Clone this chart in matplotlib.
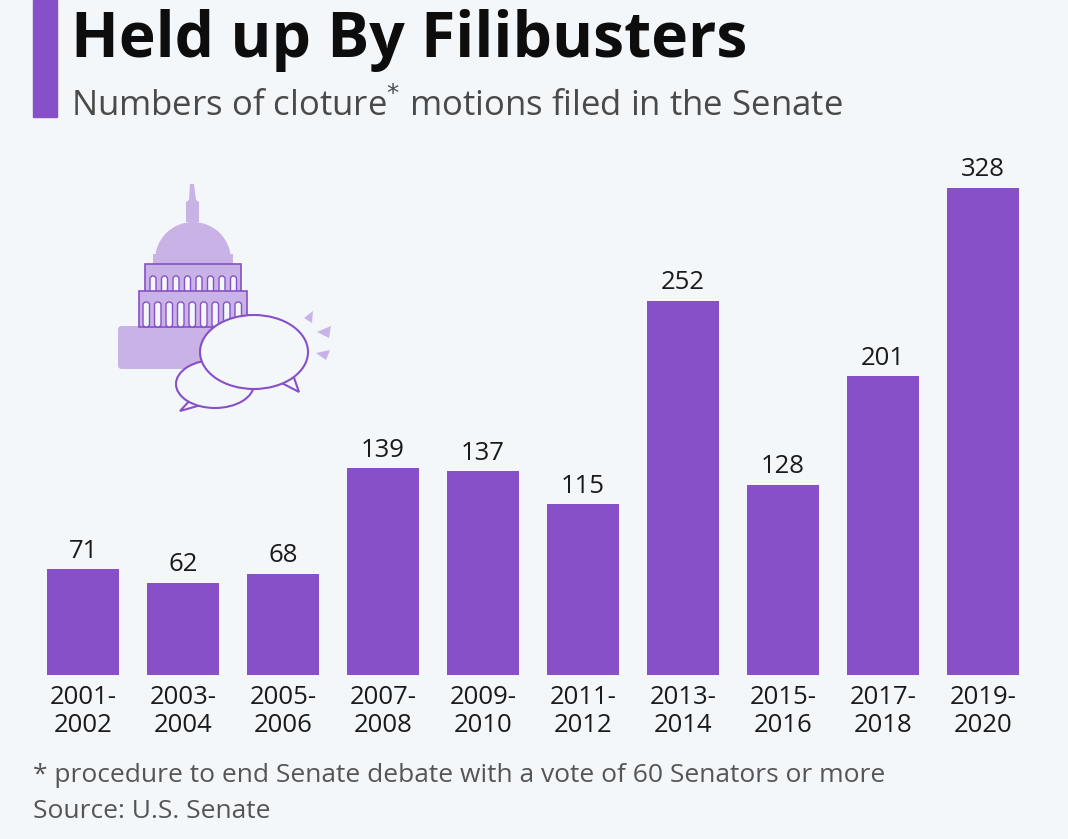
import matplotlib.pyplot as plt
from matplotlib.patches import Rectangle, FancyBboxPatch, Ellipse, Polygon, Wedge

# data
periods = ['2001-\n2002', '2003-\n2004', '2005-\n2006', '2007-\n2008', '2009-\n2010',
           '2011-\n2012', '2013-\n2014', '2015-\n2016', '2017-\n2018', '2019-\n2020']
motions = [71, 62, 68, 139, 137, 115, 252, 128, 201, 328]

BG = '#F4F7FA'
PURPLE = '#874FC8'
LIGHT = '#C9B2E6'
W, H = 1068, 839

plt.rcParams['font.family'] = ['Open Sans', 'DejaVu Sans']

fig = plt.figure(figsize=(W / 100, H / 100), dpi=100, facecolor=BG)

def fx(px):
    return px / W

def fy(py):
    return 1 - py / H

# main bar axes, placed in pixels
ax = fig.add_axes([fx(33), fy(675), fx(1000), fy(140) - fy(675)])
ax.set_facecolor(BG)
x = range(len(motions))
bars = ax.bar(x, motions, width=0.72, color=PURPLE, zorder=2)
ax.set_xlim(-0.5, len(motions) - 0.5)
ax.set_ylim(0, 360)
for s in ax.spines.values():
    s.set_visible(False)
ax.set_yticks([])
ax.set_xticks(list(x))
ax.set_xticklabels(periods, fontsize=18.5, color='#1a1a1a', linespacing=1.15)
ax.tick_params(axis='x', length=0, pad=7)

for b, v in zip(bars, motions):
    ax.annotate(str(v), (b.get_x() + b.get_width() / 2, v), xytext=(0, 4),
                textcoords='offset points', ha='center', va='bottom',
                fontsize=18.5, color='#1a1a1a')

# header
fig.patches.append(Rectangle((fx(33), fy(117)), fx(24), fy(0) - fy(117),
                             transform=fig.transFigure, color=PURPLE))
fig.text(fx(71), fy(57), 'Held up By Filibusters', fontsize=45, fontweight='bold',
         color='#0d0d0d', va='baseline', ha='left')
fig.text(fx(71), fy(116), 'Numbers of cloture$^{*}$ motions filed in the Senate',
         fontsize=25, color='#4a4a4a', va='baseline', ha='left')

# footer
fig.text(fx(33), fy(782), '* procedure to end Senate debate with a vote of 60 Senators or more',
         fontsize=19, color='#555555', va='baseline', ha='left')
fig.text(fx(33), fy(818), 'Source: U.S. Senate', fontsize=19, color='#555555',
         va='baseline', ha='left')

# capitol + speech bubble icon, drawn in pixel space
ic = fig.add_axes([0, 0, 1, 1], zorder=5)
ic.set_xlim(0, W)
ic.set_ylim(H, 0)
ic.axis('off')
ic.patch.set_alpha(0)

ic.add_patch(FancyBboxPatch((118, 326), 100, 43, boxstyle='round,pad=0,rounding_size=4',
                            fc=LIGHT, ec='none'))
# spire and dome
ic.add_patch(Polygon([(190, 184), (194, 184), (196, 200), (199, 202), (199, 222),
                      (186, 222), (186, 202), (189, 200)], fc=LIGHT, ec='none'))
ic.add_patch(Wedge((193, 260), 38, 180, 360, fc=LIGHT, ec='none'))
ic.add_patch(Rectangle((153, 254), 80, 10, fc=LIGHT, ec='none'))
# upper colonnade
ic.add_patch(Rectangle((145, 264), 96, 30, fc=LIGHT, ec=PURPLE, lw=1.2))
for i in range(8):
    ic.add_patch(FancyBboxPatch((150 + i * 11.5, 276), 6, 18,
                                boxstyle='round,pad=0,rounding_size=3',
                                fc=BG, ec=PURPLE, lw=1))
# lower colonnade
ic.add_patch(Rectangle((139, 291), 108, 36, fc=LIGHT, ec=PURPLE, lw=1.2))
for i in range(9):
    ic.add_patch(FancyBboxPatch((143 + i * 11.5, 302), 6.5, 25,
                                boxstyle='round,pad=0,rounding_size=3',
                                fc=BG, ec=PURPLE, lw=1))
# speech bubbles
ic.add_patch(Polygon([(192, 398), (180, 411), (208, 403)], fc=BG, ec=PURPLE, lw=1.5))
ic.add_patch(Ellipse((215, 384), 78, 48, fc=BG, ec=PURPLE, lw=1.5))
ic.add_patch(Polygon([(276, 380), (299, 392), (292, 372)], fc=BG, ec=PURPLE, lw=1.5))
ic.add_patch(Ellipse((254, 352), 108, 74, fc=BG, ec=PURPLE, lw=1.5))
# little accent marks
ic.add_patch(Polygon([(304, 318), (313, 311), (312, 323)], fc=LIGHT, ec='none'))
ic.add_patch(Polygon([(317, 332), (331, 326), (329, 338)], fc=LIGHT, ec='none'))
ic.add_patch(Polygon([(316, 353), (330, 350), (326, 360)], fc=LIGHT, ec='none'))

fig.savefig('out.png', dpi=100, facecolor=BG)
